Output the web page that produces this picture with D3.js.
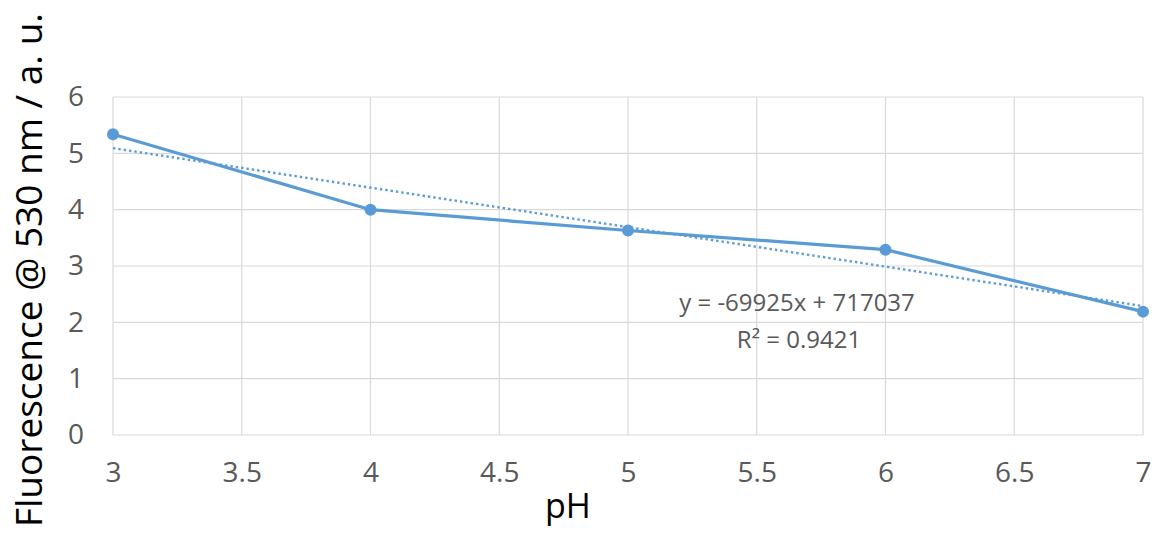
<!DOCTYPE html>
<html><head><meta charset="utf-8">
<script src="https://cdn.jsdelivr.net/npm/d3@7"></script>
<style>body{margin:0;background:#fff}svg{display:block}</style>
</head><body>
<script>
const pH = [3, 4, 5, 6, 7];
const fluorescence = [5.34, 4.0, 3.63, 3.29, 2.19];
const xTicks = [3, 3.5, 4, 4.5, 5, 5.5, 6, 6.5, 7];
const yTicks = [0, 1, 2, 3, 4, 5, 6];
const trendText = ["y = -69925x + 717037", "R² = 0.9421"];

const W = 1155, H = 538;
const m = {left: 113, right: 12, top: 97, bottom: 103};
const svg = d3.select("body").append("svg").attr("width", W).attr("height", H);
const x = d3.scaleLinear().domain([3, 7]).range([m.left, W - m.right]);
const y = d3.scaleLinear().domain([0, 6]).range([H - m.bottom, m.top]);
const font = "'Open Sans', sans-serif";
const blue = "#5B9BD5";

// grid
svg.append("g").selectAll("line").data(xTicks).join("line")
  .attr("x1", d => x(d)).attr("x2", d => x(d)).attr("y1", y(6)).attr("y2", y(0))
  .attr("stroke", "#d9d9d9").attr("stroke-width", 1.2);
svg.append("g").selectAll("line").data(yTicks).join("line")
  .attr("x1", x(3)).attr("x2", x(7)).attr("y1", d => y(d)).attr("y2", d => y(d))
  .attr("stroke", "#d9d9d9").attr("stroke-width", 1.2);

// axes labels via d3 axes
const xAxis = svg.append("g").attr("transform", `translate(0,${y(0)})`)
  .call(d3.axisBottom(x).tickValues(xTicks).tickSize(0).tickPadding(27).tickFormat(d3.format("")));
const yAxis = svg.append("g").attr("transform", `translate(${x(3)},0)`)
  .call(d3.axisLeft(y).tickValues(yTicks).tickSize(0).tickPadding(29).tickFormat(d3.format("")));
[xAxis, yAxis].forEach(g => {
  g.select(".domain").remove();
  g.selectAll("text").attr("font-family", font).attr("font-size", 28).attr("fill", "#595959");
});

// trendline (least squares from data)
const mx = d3.mean(pH), my = d3.mean(fluorescence);
const slope = d3.sum(pH, (v, i) => (v - mx) * (fluorescence[i] - my)) / d3.sum(pH, v => (v - mx) ** 2);
const icpt = my - slope * mx;
svg.append("line")
  .attr("x1", x(3)).attr("y1", y(icpt + slope * 3))
  .attr("x2", x(7)).attr("y2", y(icpt + slope * 7))
  .attr("stroke", blue).attr("stroke-width", 2.4).attr("stroke-dasharray", "2.4,3");

// series line
const pts = pH.map((v, i) => [v, fluorescence[i]]);
svg.append("path").datum(pts)
  .attr("d", d3.line().x(d => x(d[0])).y(d => y(d[1])))
  .attr("fill", "none").attr("stroke", blue).attr("stroke-width", 3.2);
svg.append("g").selectAll("circle").data(pts).join("circle")
  .attr("cx", d => x(d[0])).attr("cy", d => y(d[1])).attr("r", 6).attr("fill", blue);

// trend label
svg.append("text").attr("x", 797).attr("y", 311).attr("text-anchor", "middle")
  .attr("font-family", font).attr("font-size", 24).attr("fill", "#595959").text(trendText[0]);
svg.append("text").attr("x", 799).attr("y", 348).attr("text-anchor", "middle")
  .attr("font-family", font).attr("font-size", 24).attr("fill", "#595959").text(trendText[1]);

// axis titles
svg.append("text").attr("x", 568).attr("y", 518).attr("text-anchor", "middle")
  .attr("font-family", font).attr("font-size", 34).attr("fill", "#000").text("pH");
svg.append("text").attr("transform", `translate(42,270) rotate(-90)`).attr("text-anchor", "middle")
  .attr("font-family", font).attr("font-size", 37).attr("fill", "#000")
  .text("Fluorescence @ 530 nm / a. u.");
</script>
</body></html>
